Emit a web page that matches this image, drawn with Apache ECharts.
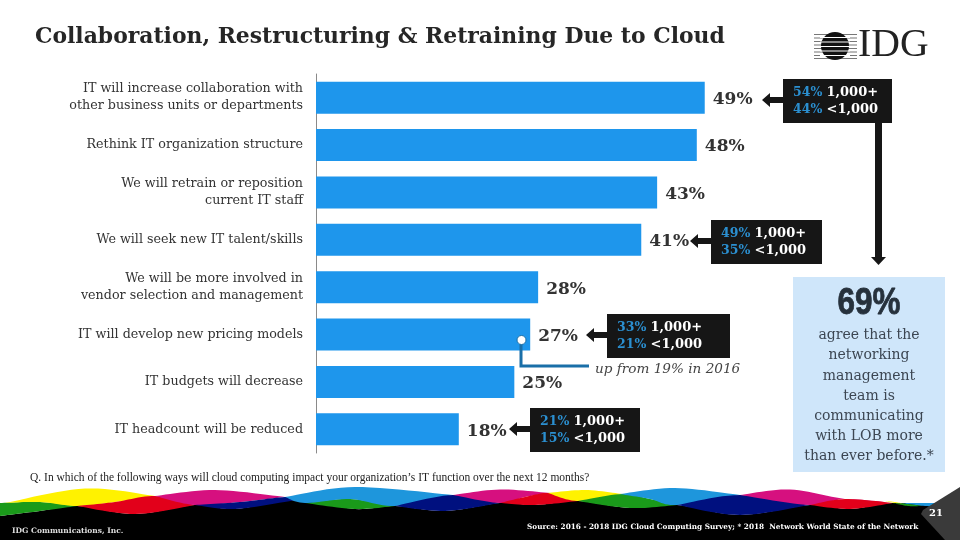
<!DOCTYPE html>
<html>
<head>
<meta charset="utf-8">
<style>html,body{margin:0;background:#fff}#chart{width:960px;height:540px}</style>
<script src="https://cdn.jsdelivr.net/npm/echarts@6/dist/echarts.min.js"></script>
</head>
<body>
<div id="chart"></div>
<script>
const categories = [
  'IT will increase collaboration with\nother business units or departments',
  'Rethink IT organization structure',
  'We will retrain or reposition\ncurrent IT staff',
  'We will seek new IT talent/skills',
  'We will be more involved in\nvendor selection and management',
  'IT will develop new pricing models',
  'IT budgets will decrease',
  'IT headcount will be reduced'
]
const values = [49, 48, 43, 41, 28, 27, 25, 18]
const largeCompany = ['54%', '49%', '33%', '21%']
const smallCompany = ['44%', '35%', '21%', '15%']
const sideLines = ['agree that the', 'networking', 'management', 'team is', 'communicating', 'with LOB more', 'than ever before.*']

const serif = '"DejaVu Serif", serif'
const textSerif = '"Liberation Serif", serif'

// footer ribbons, [x, y] knots
const ribbons = [
  ['#1a9a1a', [[0,503],[40,502],[77,506]], [[0,516],[40,511],[77,506]]],
  ['#fff200', [[5,503],[85,488.5],[155,496]], [[5,503],[40,502],[77,506],[115,502],[155,496]]],
  ['#e2001a', [[77,506],[115,502],[155,496],[195,505]], [[77,506],[135,514],[195,505]]],
  ['#d6107f', [[155,496],[215,490],[285,497]], [[155,496],[195,505],[240,502],[285,497]]],
  ['#00107f', [[195,505],[240,502],[285,497],[296,500]], [[195,505],[235,509],[296,500]]],
  ['#1a9a1a', [[305,503],[350,499],[395,506]], [[305,503],[355,509],[395,506]]],
  ['#1e96dc', [[285,497],[355,487],[453,495]], [[285,497],[305,503],[350,499],[395,506],[453,495]]],
  ['#00107f', [[395,506],[453,495],[500,503]], [[395,506],[445,511],[500,503]]],
  ['#d6107f', [[453,495],[500,489.5],[550,493]], [[453,495],[500,503],[525,497],[550,493]]],
  ['#e2001a', [[500,503],[525,497],[550,493],[578,501]], [[500,503],[535,505],[578,501]]],
  ['#fff200', [[548,493],[585,490],[622,494]], [[548,493],[578,501],[622,494]]],
  ['#1a9a1a', [[578,501],[622,494],[650,499],[677,505]], [[578,501],[630,508],[677,505]]],
  ['#1e96dc', [[620,494],[675,488],[740,495]], [[620,494],[650,499],[677,505],[740,495]]],
  ['#00107f', [[677,505],[740,495],[810,505]], [[677,505],[740,515],[810,505]]],
  ['#d6107f', [[740,495],[790,489.5],[845,499],[893,503]], [[740,495],[810,505],[845,499],[893,503]]],
  ['#e2001a', [[810,505],[845,499],[893,503]], [[810,505],[850,509],[893,503]]],
  ['#fff200', [[885,501],[895,502],[905,504]], [[885,501],[895,503],[905,504]]],
  ['#1e96dc', [[900,503],[925,503],[945,503]], [[900,503],[925,506],[945,506]]],
  ['#1a9a1a', [[893,503],[908,504],[922,506]], [[893,503],[908,506],[922,506]]]
]
const blackTop = [[0,516],[40,511],[77,506],[135,514],[195,505],[235,509],[296,500],[355,509],[395,506],[445,511],[500,503],[535,505],[578,501],[630,508],[677,505],[740,515],[810,505],[850,509],[893,503],[960,505]]

// catmull-rom through the knots so ribbons cross at a slope
function curve(knots) {
  const out = []
  for (let i = 0; i < knots.length - 1; i++) {
    const p0 = knots[Math.max(i - 1, 0)], p1 = knots[i], p2 = knots[i + 1], p3 = knots[Math.min(i + 2, knots.length - 1)]
    for (let s = 0; s < 12; s++) {
      const t = s / 12
      const f = k => 0.5 * (2 * p1[k] + (p2[k] - p0[k]) * t + (2 * p0[k] - 5 * p1[k] + 4 * p2[k] - p3[k]) * t * t + (3 * p1[k] - p0[k] - 3 * p2[k] + p3[k]) * t * t * t)
      out.push([f(0), f(1)])
    }
  }
  out.push(knots[knots.length - 1])
  return out
}

function ribbon(item) {
  return { type: 'polygon', shape: { points: curve(item[1]).concat(curve(item[2]).reverse()) }, style: { fill: item[0] } }
}

function label(x, y, text, font, fill, align) {
  return { type: 'text', x, y, style: { text, font, fill: fill || '#333', align: align || 'left', verticalAlign: 'middle' } }
}

function callout(x, y, w, i, arrowTip) {
  const midY = y + 21
  return [
    { type: 'rect', shape: { x, y, width: w, height: 44 }, style: { fill: '#161616' } },
    { type: 'polygon', shape: { points: [[x, midY - 3], [arrowTip + 8, midY - 3], [arrowTip + 8, midY - 7], [arrowTip, midY], [arrowTip + 8, midY + 7], [arrowTip + 8, midY + 3], [x, midY + 3]] }, style: { fill: '#161616' } },
    label(x + 10, y + 14, largeCompany[i], 'bold 12.5px ' + serif, '#2b8fd0'),
    label(x + 43.5, y + 14, '1,000+', 'bold 13px ' + serif, '#fff'),
    label(x + 10, y + 31, smallCompany[i], 'bold 12.5px ' + serif, '#2b8fd0'),
    label(x + 43.5, y + 31, '<1,000', 'bold 13px ' + serif, '#fff')
  ]
}

const logoLines = [34, 37.5, 41, 44.5, 48, 51.5, 55, 58].map(y => ({ type: 'rect', shape: { x: 814, y, width: 43, height: 1 }, style: { fill: '#777' } }))
const logoStripes = [37, 41.5, 46, 50.5, 55].map(y => ({ type: 'rect', shape: { x: 820, y, width: 30, height: 1 }, style: { fill: '#fff' } }))

const elements = [
  label(35, 37, 'Collaboration, Restructuring & Retraining Due to Cloud', 'bold 21.9px ' + serif, '#262626'),
  ...logoLines,
  { type: 'circle', shape: { cx: 835, cy: 46, r: 14 }, style: { fill: '#111' } },
  ...logoStripes,
  label(858, 46, 'IDG', '39.7px ' + textSerif, '#222'),

  ...callout(783, 79, 109, 0, 762),
  ...callout(711, 220, 111, 1, 690),
  ...callout(607, 314, 123, 2, 586),
  ...callout(530, 408, 110, 3, 509),

  { type: 'polygon', shape: { points: [[875, 122], [882, 122], [882, 257], [886, 257], [878.5, 265], [871, 257], [875, 257]] }, style: { fill: '#161616' } },
  { type: 'rect', shape: { x: 793, y: 277, width: 152, height: 195 }, style: { fill: '#cfe6fa' } },
  { type: 'text', x: 869, y: 304, scaleX: 0.85, style: { text: '69%', font: 'bold 37px "Liberation Sans Narrow", "Liberation Sans", sans-serif', fill: '#26313c', stroke: '#26313c', lineWidth: 0.8, align: 'center', verticalAlign: 'middle' } },
  ...sideLines.map((t, i) => label(869, 335.5 + i * 20.2, t, '14px ' + serif, '#3c4652', 'center')),

  { type: 'polyline', z: 10, shape: { points: [[521, 343], [521, 366], [589, 366]] }, style: { stroke: '#1a6fa8', lineWidth: 3, fill: null } },
  { type: 'circle', z: 10, shape: { cx: 521.5, cy: 340, r: 4.5 }, style: { fill: '#fff', stroke: '#1a6fa8', lineWidth: 1 } },
  label(595, 369, 'up from 19% in 2016', 'italic 13.6px ' + serif, '#444'),

  label(30, 478, 'Q. In which of the following ways will cloud computing impact your organization\u2019s IT function over the next 12 months?', '11.5px ' + textSerif, '#222'),

  { type: 'polygon', shape: { points: curve(blackTop).concat([[960, 540], [0, 540]]) }, style: { fill: '#000' } },
  ...ribbons.map(ribbon),
  { type: 'polygon', shape: { points: [[960, 487], [923, 510], [921, 514], [945, 540], [960, 540]] }, style: { fill: '#3a3a3a' } },
  label(936, 513, '21', 'bold 10px ' + serif, '#fff', 'center'),
  label(12, 531, 'IDG Communications, Inc.', 'bold 7.5px ' + serif, '#ddd'),
  label(527, 527, 'Source: 2016 - 2018 IDG Cloud Computing Survey; * 2018  Network World State of the Network', 'bold 7.3px ' + serif, '#fff')
]

const chart = echarts.init(document.getElementById('chart'))
chart.setOption({
  animation: false,
  backgroundColor: '#fff',
  grid: { left: 316, top: 74, width: 476, height: 379 },
  xAxis: { type: 'value', min: 0, max: 60, show: false },
  yAxis: {
    type: 'category',
    inverse: true,
    data: categories,
    axisTick: { show: false },
    axisLine: { lineStyle: { color: '#8a8a8a', width: 1 } },
    axisLabel: { margin: 13, align: 'right', color: '#333', fontFamily: serif, fontSize: 12.7, lineHeight: 17 }
  },
  series: [{
    type: 'bar',
    data: values,
    barWidth: 32,
    itemStyle: { color: '#1e96ec' },
    label: { show: true, position: 'right', distance: 8, offset: [0, 2], formatter: '{c}%', color: '#333', fontFamily: serif, fontWeight: 'bold', fontSize: 17 }
  }],
  graphic: { elements }
})
</script>
</body>
</html>
